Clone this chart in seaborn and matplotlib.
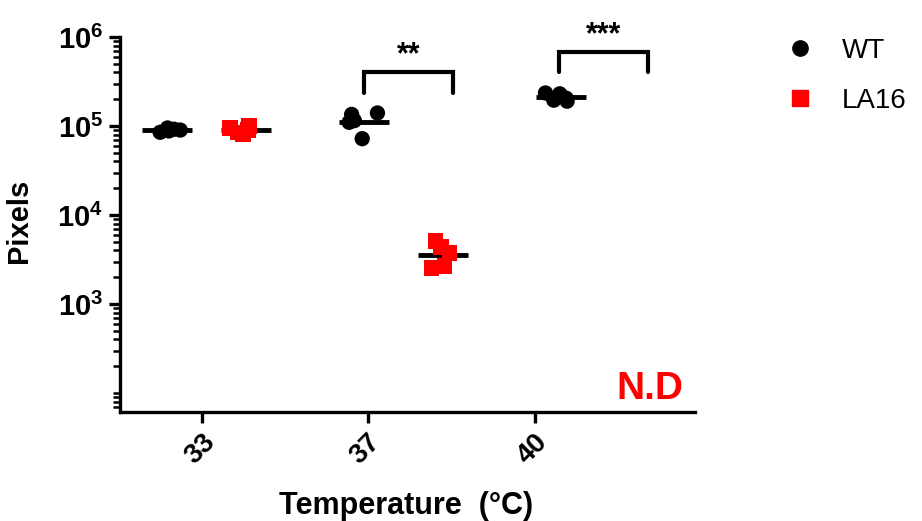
import numpy as np
import pandas as pd
import matplotlib.pyplot as plt
import seaborn as sns
from matplotlib.lines import Line2D
from matplotlib.ticker import LogLocator

# data (pixels, log scale)
temps = ['33', '37', '40']
strains = ['WT', 'LA16']
wt_33 = [88000, 92000, 85000, 95000, 90000]
wt_37 = [140000, 135000, 115000, 110000, 72000]
wt_40 = [235000, 230000, 205000, 195000, 190000]
la16_33 = [100000, 95000, 90000, 85000, 80000]
la16_37 = [5100, 3740, 4370, 2540, 2680]
la16_40 = []  # not detected

rows = []
for strain, groups in [('WT', [wt_33, wt_37, wt_40]), ('LA16', [la16_33, la16_37, la16_40])]:
    for t, vals in zip(temps, groups):
        for v in vals:
            rows.append({'temp': t, 'strain': strain, 'pixels': v})
df = pd.DataFrame(rows)

sns.set_style('ticks')
plt.rcParams['font.family'] = ['Liberation Sans', 'DejaVu Sans']
plt.rcParams['mathtext.fontset'] = 'custom'
plt.rcParams['mathtext.bf'] = 'Liberation Sans:bold'
plt.rcParams['mathtext.rm'] = 'Liberation Sans:bold'
for k in ['text.color', 'axes.labelcolor', 'xtick.color', 'ytick.color', 'axes.edgecolor']:
    plt.rcParams[k] = 'black'

colors = {'WT': 'black', 'LA16': '#ff0000'}
markers = {'WT': 'o', 'LA16': 's'}

fig = plt.figure(figsize=(9.22, 5.21), dpi=100)
ax = fig.add_axes([0.130, 0.209, 0.624, 0.720])
ax.set_yscale('log')

np.random.seed(3)
for s in strains:
    sns.stripplot(data=df[df.strain == s], x='temp', y='pixels', hue='strain',
                  order=temps, hue_order=strains, palette=colors, dodge=True,
                  jitter=0.17, marker=markers[s], size=11, linewidth=0,
                  legend=False, ax=ax)

# mean lines
sns.pointplot(data=df, x='temp', y='pixels', hue='strain', order=temps,
              hue_order=strains, palette={'WT': 'black', 'LA16': 'black'},
              estimator='mean', errorbar=None, dodge=0.4, markers='_',
              linestyles='none', markersize=36, markeredgewidth=3.5,
              legend=False, ax=ax)

ax.set_ylim(61, 1e6)
ax.set_xlim(-0.44, 2.48)
ax.set_yticks([1e3, 1e4, 1e5, 1e6],
              [r'$\mathbf{10^{3}}$', r'$\mathbf{10^{4}}$', r'$\mathbf{10^{5}}$', r'$\mathbf{10^{6}}$'])
ax.yaxis.set_minor_locator(LogLocator(base=10, subs=np.arange(1, 10), numticks=30))
ax.yaxis.set_minor_formatter(plt.NullFormatter())
ax.set_xticks([-0.025, 0.817, 1.665], temps)
for lab in ax.get_xticklabels():
    lab.set_rotation(45)
    lab.set_ha('right')
    lab.set_rotation_mode('anchor')
    lab.set_fontweight('bold')
ax.tick_params(axis='x', which='major', length=8, width=2.4, labelsize=20, pad=4)
ax.tick_params(axis='y', which='major', length=8, width=2.4, labelsize=21, pad=4)
ax.tick_params(axis='y', which='minor', length=5, width=1.8)
sns.despine(ax=ax)
for sp in ['left', 'bottom']:
    ax.spines[sp].set_linewidth(2.4)

ax.set_xlabel('Temperature  (°C)', fontsize=22, fontweight='bold')
ax.set_ylabel('Pixels', fontsize=21, fontweight='bold')
ax.xaxis.set_label_coords(0.497, -0.21)
ax.yaxis.set_label_coords(-0.151, 0.51)

# significance brackets
for x0, x1, ylo, yhi, stars in [(0.8, 1.25, 2.35e5, 4.05e5, '**'),
                                (1.79, 2.24, 4.0e5, 6.8e5, '***')]:
    ax.plot([x0, x0, x1, x1], [ylo, yhi, yhi, ylo], color='black', lw=3,
            solid_capstyle='round', solid_joinstyle='miter', clip_on=False)
    ax.text((x0 + x1) / 2, yhi * 1.05, stars, ha='center', va='bottom',
            fontsize=22, fontweight='bold', clip_on=False)

ax.text(2.25, 70, 'N.D', color='#ff0000', ha='center', va='bottom',
        fontsize=28, fontweight='bold')

handles = [Line2D([], [], marker=markers[s], color=colors[s], linestyle='none',
                  markersize=11) for s in strains]
fig.legend(handles, strains, loc='upper left', bbox_to_anchor=(0.826, 0.975),
           frameon=False, fontsize=20, handlelength=1.0, handletextpad=1.0,
           labelspacing=0.85)

fig.savefig('out.png', dpi=100)
